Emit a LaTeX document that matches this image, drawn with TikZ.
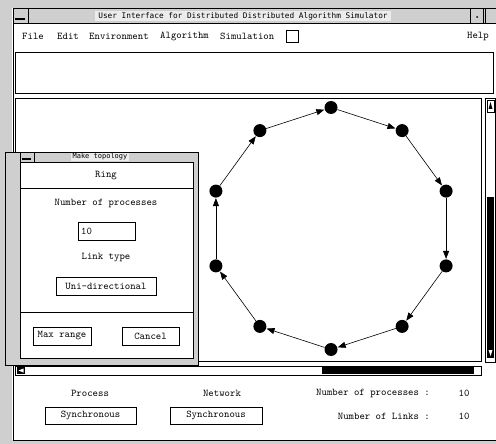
\documentclass[tikz,border=0pt]{standalone}
\usepackage{fontspec}
\newfontfamily\titlefont{DejaVu Sans Mono}
\usetikzlibrary{arrows.meta}
\begin{document}
\begin{tikzpicture}[x=1pt,y=-1pt,
  ui/.style={font=\ttfamily\addfontfeatures{FakeBold=0.6}\fontsize{10.3}{12}\selectfont, inner sep=0pt},
  btn/.style={draw, line width=0.9pt, fill=white, ui, minimum height=18pt},
  dot/.style={circle, fill=black, minimum size=13pt, inner sep=0pt},
  ringarrow/.style={-{Triangle[length=8pt,width=6pt]}, line width=0.6pt, shorten >=0.3pt},
  dith/.style={fill=gray!38},
  frame/.style={line width=0.9pt},
  ttl/.style={font=\titlefont\fontsize{7.75}{9}\selectfont, inner sep=0pt}
  ]
\useasboundingbox (0,0) rectangle (496,444);
\fill[white] (0,0) rectangle (496,444);
% dithered surroundings
\fill[dith] (0,0) rectangle (12,444);
\fill[dith] (0,0) rectangle (496,8);
\fill[dith] (0,440) rectangle (496,444);
% window frame
\draw[frame] (13,8) -- (13,440) -- (496,440);
% title bar
\fill[dith] (13,8) rectangle (496,23);
\draw[frame] (13,8) -- (496,8);
\draw[frame] (13,23) -- (496,23);
\draw[frame] (13,8) rectangle (28,23);
\draw[line width=1.2pt] (15,19) -- (25,19);
\draw[frame] (470,8) rectangle (483,23);
\fill (477,17) circle (1pt);
\draw[frame] (485,8) rectangle (496,23);
\node[ttl, fill=gray!15, inner xsep=3pt, inner ysep=1.5pt] (title) at (243,16) {User Interface for Distributed Distributed Algorithm Simulator};
% menu
\node[ui, anchor=west] (mfile) at (22,36) {File};
\node[ui, anchor=west] (medit) at (57,36) {Edit};
\node[ui, anchor=west] (menv) at (89,36) {Environment};
\node[ui, anchor=west] (malg) at (160,36) {Algorithm};
\node[ui, anchor=west] (msim) at (220,36) {Simulation};
\node[draw, line width=0.7pt, minimum width=12pt, minimum height=12pt, inner sep=0pt] (mbox) at (292,36) {};
\node[ui, anchor=east] (mhelp) at (489,36) {Help};
% message panel
\draw[frame] (15,52) rectangle (493,93);
% canvas
\draw[frame] (15,98) rectangle (481,361);
% vertical scrollbar
\draw[frame] (485,98) rectangle (495,362);
\draw[line width=0.6pt] (487,100) rectangle (494,112);
\fill (490.5,102) -- (488.5,109) -- (492.5,109) -- cycle;
\fill (487,197) rectangle (494,358);
\fill[white] (490.5,356) -- (488.5,350) -- (492.5,350) -- cycle;
% horizontal scrollbar
\draw[frame] (15,366) rectangle (481,375);
\fill (17,367) rectangle (25,374);
\fill[white] (18.5,370.5) -- (23.5,368.5) -- (23.5,372.5) -- cycle;
\fill (322,367) rectangle (474,374);
\fill[white] (479,370.5) -- (474,367.5) -- (474,373.5) -- cycle;
% ring of processes
\foreach \i in {0,...,9} {
  \node[dot] (n\i) at ({331+121*cos(90-36*\i)},{228.5-121*sin(90-36*\i)}) {};
}
\foreach \i in {0,...,9} {
  \pgfmathtruncatemacro{\j}{mod(\i+1,10)}
  \draw[ringarrow] (n\i) -- (n\j);
}
% dialog: Make topology
\fill[dith] (5,152) rectangle (198,365);
\draw[frame] (5,152) rectangle (198,365);
\fill[white] (20,162) rectangle (193,358);
\draw[frame] (20,162) rectangle (193,358);
\draw[frame] (20,152) rectangle (34,162);
\draw[line width=1.1pt] (22,159) -- (31,159);
\node[ttl, fill=gray!15, inner xsep=2pt, inner ysep=0.8pt, font=\titlefont\fontsize{7}{8}\selectfont] (dtitle) at (100,157) {Make topology};
\draw[frame] (20,188) -- (193,188);
\node[ui] (ring) at (106,176) {Ring};
\node[ui] (nproc) at (106,203) {Number of processes};
\node[draw, line width=0.9pt, minimum width=57pt, minimum height=18pt, inner sep=0pt] (field) at (106.5,231) {};
\node[ui, anchor=west] (fieldval) at (81,231) {10};
\node[ui] (ltype) at (106,258) {Link type};
\node[btn, minimum width=100pt] (uni) at (106,286) {Uni-directional};
\draw[frame] (20,312) -- (193,312);
\node[btn, minimum width=58pt] (maxr) at (62,336) {Max range};
\node[btn, minimum width=57pt] (cancel) at (150.5,336) {Cancel};
% bottom panel
\node[ui] (lproc) at (90,393) {Process};
\node[btn, minimum width=91pt, minimum height=17pt] (bproc) at (90.5,415.5) {Synchronous};
\node[ui] (lnet) at (222,393) {Network};
\node[btn, minimum width=92pt, minimum height=17pt] (bnet) at (216,415.5) {Synchronous};
\node[ui, anchor=east] (lnp) at (430,393) {Number of processes :};
\node[ui] (vnp) at (464,393) {10};
\node[ui, anchor=east] (lnl) at (430,416) {Number of Links :};
\node[ui] (vnl) at (464,416) {10};
\end{tikzpicture}
\end{document}
